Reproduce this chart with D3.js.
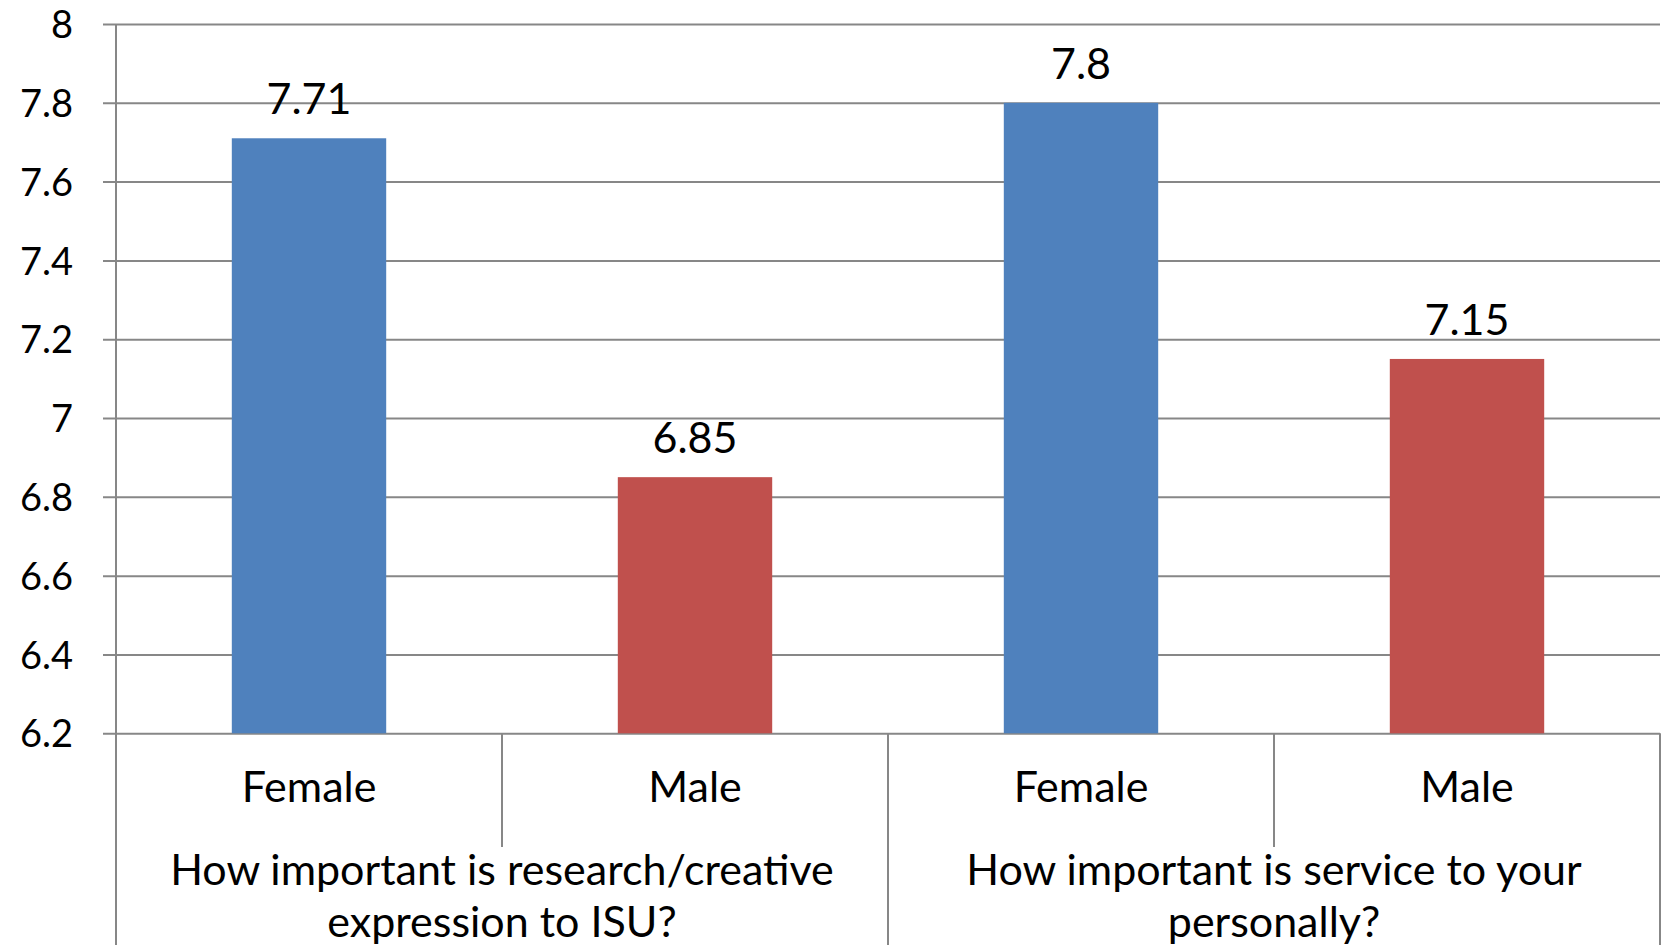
<!DOCTYPE html>
<html>
<head>
<meta charset="utf-8">
<script src="https://cdn.jsdelivr.net/npm/d3@7"></script>
<style>
  html, body { margin: 0; padding: 0; background: #ffffff; }
  svg { display: block; }
  text { font-family: Lato, "Noto Sans", sans-serif; fill: #000; }
</style>
</head>
<body>
<svg id="chart" width="1663" height="945"></svg>
<script>
// Survey questions (two-line category titles) and the gender sub-categories
const questionLines = [
  ["How important is research/creative", "expression to ISU?"],
  ["How important is service to your", "personally?"]
];
const genders = ["Female", "Male"];
const femaleValues = [7.71, 7.8];
const maleValues = [6.85, 7.15];
const yTicks = [6.2, 6.4, 6.6, 6.8, 7, 7.2, 7.4, 7.6, 7.8, 8];
const genderColors = { Female: "#4F81BD", Male: "#C0504D" };

// One row per bar, built from the arrays above
const rows = [];
questionLines.forEach((q, qi) => {
  rows.push({ key: qi + "-Female", q: qi, gender: genders[0], value: femaleValues[qi] });
  rows.push({ key: qi + "-Male", q: qi, gender: genders[1], value: maleValues[qi] });
});

const svg = d3.select("#chart");
const plotLeft = 116, plotRight = 1660, plotTop = 24, plotBottom = 733.3, H = 945;
const gridColor = "#878787";
const fontSize = 43;
const tickFontSize = 38;

const x = d3.scaleBand().domain(rows.map(r => r.key)).range([plotLeft, plotRight]).padding(0);
const y = d3.scaleLinear().domain([6.2, 8]).range([plotBottom, plotTop]);
const tickFmt = d => String(+d.toFixed(1));

// Horizontal gridlines with tick marks to the left of the value axis
const yAxis = d3.axisLeft(y).tickValues(yTicks).tickFormat(tickFmt)
  .tickSize(-(plotRight - plotLeft));
const gy = svg.append("g").attr("transform", `translate(${plotLeft},0)`).call(yAxis);
gy.select(".domain").remove();
gy.selectAll(".tick line")
  .attr("x1", -13)
  .attr("stroke", gridColor).attr("stroke-width", 2);
gy.selectAll(".tick text")
  .attr("font-size", tickFontSize).attr("x", -43).attr("dy", "0.36em")
  .style("font-family", "Lato, 'Noto Sans', sans-serif").attr("fill", "#000");

// Value axis line running down through the category area
svg.append("line")
  .attr("x1", plotLeft).attr("x2", plotLeft).attr("y1", plotTop).attr("y2", H)
  .attr("stroke", gridColor).attr("stroke-width", 2);

// Bars
const barW = x.bandwidth() * 0.4;
svg.append("g").selectAll("rect").data(rows).join("rect")
  .attr("x", d => x(d.key) + (x.bandwidth() - barW) / 2)
  .attr("y", d => y(d.value))
  .attr("width", barW)
  .attr("height", d => y(6.2) - y(d.value))
  .attr("fill", d => genderColors[d.gender]);

// Value labels above the bars
svg.append("g").selectAll("text").data(rows).join("text")
  .attr("x", d => x(d.key) + x.bandwidth() / 2)
  .attr("y", d => y(d.value) - 24)
  .attr("text-anchor", "middle")
  .attr("font-size", fontSize)
  .text(d => String(d.value));

// Category axis: short dividers between genders, long dividers between questions
const cat = svg.append("g");
rows.forEach((r, i) => {
  const xl = x(r.key);
  if (i > 0) {
    const long = r.gender === genders[0];
    cat.append("line")
      .attr("x1", xl).attr("x2", xl)
      .attr("y1", plotBottom).attr("y2", long ? H : 847)
      .attr("stroke", gridColor).attr("stroke-width", 2);
  }
  cat.append("text")
    .attr("x", xl + x.bandwidth() / 2).attr("y", 802)
    .attr("text-anchor", "middle").attr("font-size", fontSize)
    .text(r.gender);
});
cat.append("line")
  .attr("x1", plotRight).attr("x2", plotRight).attr("y1", plotBottom).attr("y2", H)
  .attr("stroke", gridColor).attr("stroke-width", 2);

// Question titles centred under each pair of bars
questionLines.forEach((lines, qi) => {
  const x0 = x(qi + "-Female"), x1 = x(qi + "-Male") + x.bandwidth();
  const t = cat.append("text")
    .attr("x", (x0 + x1) / 2).attr("y", 885)
    .attr("text-anchor", "middle").attr("font-size", fontSize);
  lines.forEach((ln, li) => {
    t.append("tspan").attr("x", (x0 + x1) / 2).attr("dy", li === 0 ? 0 : 52).text(ln);
  });
});
</script>
</body>
</html>
